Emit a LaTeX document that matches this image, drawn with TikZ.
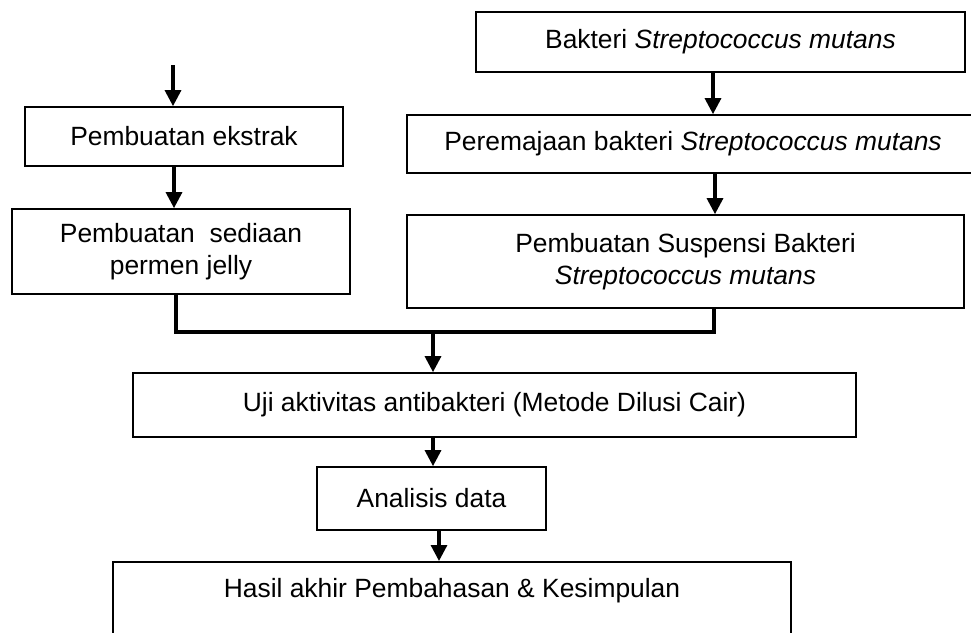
\documentclass[tikz,border=0pt]{standalone}
\usepackage{fontspec}
\setmainfont{Liberation Sans}
\usetikzlibrary{arrows.meta,positioning}
\tikzset{
  kotak/.style={draw, line width=0.85pt, inner sep=0pt, align=center, font=\fontsize{13.2}{16}\selectfont},
  panah/.style={line width=1.6pt, -{Triangle[length=8pt,width=8pt]}},
  garis/.style={line width=1.6pt},
}
\begin{document}
\begin{tikzpicture}[x=0.5pt,y=-0.5pt]
    \useasboundingbox (0,0) rectangle (971,633);
    % kolom kiri
    \node[kotak, minimum width=159pt, minimum height=29.5pt] (ekstrak) at (184,136.5) {Pembuatan ekstrak};
    \node[kotak, minimum width=169pt, minimum height=42.5pt] (jelly) at (181,251.5) {Pembuatan\ \ sediaan\\permen jelly};
    % kolom kanan
    \node[kotak, minimum width=244.5pt, minimum height=30pt] (bakteri) at (720.5,42) {Bakteri \textit{Streptococcus mutans}};
    \node[kotak, minimum width=286pt, minimum height=29pt] (remaja) at (693,144) {Peremajaan bakteri \textit{Streptococcus mutans}};
    \node[kotak, minimum width=278.5pt, minimum height=46.5pt] (suspensi) at (685.5,261.5) {Pembuatan Suspensi Bakteri\\\textit{Streptococcus mutans}};
    % bagian bawah
    \node[kotak, minimum width=361.5pt, minimum height=32pt] (uji) at (494.5,405) {Uji aktivitas antibakteri (Metode Dilusi Cair)};
    \node[kotak, minimum width=114.5pt, minimum height=31.5pt] (analisis) at (431.5,498.5) {Analisis data};
    \node[kotak, anchor=north, minimum width=339pt, text height=18pt, text depth=40pt] (hasil) at (452,561) {Hasil akhir Pembahasan \& Kesimpulan};
    % titik bantu untuk panah
    \coordinate (mulai) at (173,65);
    \coordinate (a1) at (174,0);
    \coordinate (a2) at (713,0);
    \coordinate (a3) at (715,0);
    \coordinate (a4) at (433,0);
    \coordinate (a5) at (439,0);
    \coordinate (kiri) at (176,0);
    \coordinate (kanan) at (714,0);
    \coordinate (gabung) at (433,332);
    % panah
    \draw[panah] (mulai) -- (mulai |- ekstrak.north);
    \draw[panah] (a1 |- ekstrak.south) -- (a1 |- jelly.north);
    \draw[panah] (a2 |- bakteri.south) -- (a2 |- remaja.north);
    \draw[panah] (a3 |- remaja.south) -- (a3 |- suspensi.north);
    \draw[garis] (kiri |- jelly.south) |- (gabung) -| (kanan |- suspensi.south);
    \draw[panah] (gabung) -- (gabung |- uji.north);
    \draw[panah] (a4 |- uji.south) -- (a4 |- analisis.north);
    \draw[panah] (a5 |- analisis.south) -- (a5 |- hasil.north);
\end{tikzpicture}
\end{document}
